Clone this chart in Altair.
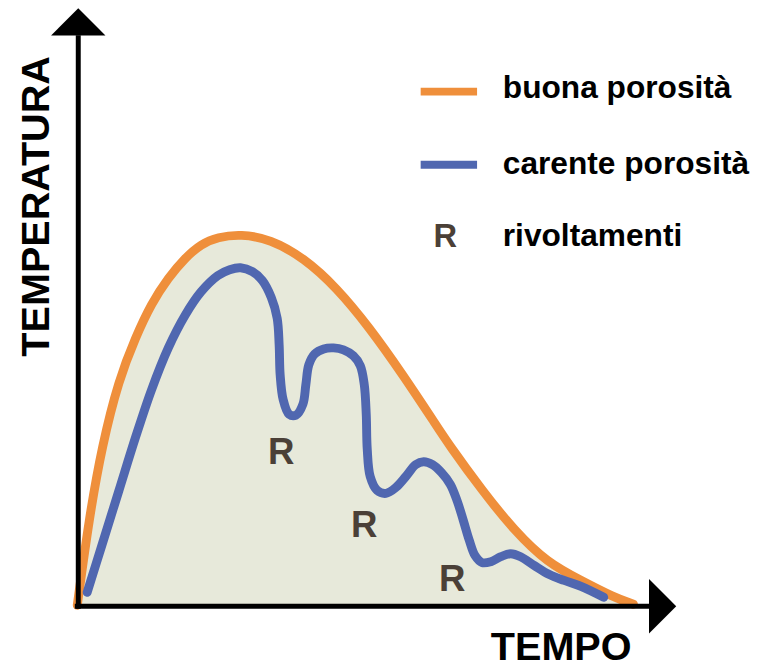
import altair as alt
import pandas as pd

# ---- data (time units, temperature units) ----
orange_t = [0, 2.4, 5, 8.4, 11.8, 15, 18.4, 21.8, 25, 28.4, 33, 39, 45.8, 52.4, 59, 65.8,
            72.4, 75, 81.8, 88.4, 95, 101.8, 108.4, 112.4]
orange_T = [0, 17.6, 32.2, 45.6, 54.2, 61, 66.2, 70.2, 73, 74.4, 75, 74, 70.2, 64.2, 56.2, 46.6,
            36.6, 32.6, 23.2, 15, 8.6, 5, 1.6, 0.2]

blue_t = [2, 5, 8.4, 11.8, 15, 18.4, 21.8, 25, 28.4, 30.8, 33, 35.4, 37.4, 39.2, 40.4, 40.8,
          41, 41.6, 42.8, 44.2, 45.6, 46.2, 46.8, 48, 49.8, 51.8, 53.8, 55.8, 57.2, 58, 58.4,
          58.6, 59.2, 60.6, 62.4, 64.4, 66.4, 68.4, 70, 71.8, 73.6, 75.4, 76.8, 78, 79.2, 80.4,
          81.8, 83.6, 85.6, 87.6, 89.6, 92.4, 95.4, 98.4, 101.8, 106.4]
blue_T = [2.6, 12.2, 23.1, 34.0, 43.5, 52.0, 58.6, 63.3, 66.6, 67.8, 68.2, 67.4, 65.6, 62.2, 58, 52.6,
          46.6, 41.6, 38.6, 38.4, 40.6, 44.6, 48.6, 50.8, 51.8, 52, 51.6, 50.4, 48.4, 44.6, 38.6,
          31.6, 26, 23.2, 22.6, 23.8, 26, 28.4, 29, 28.4, 26.8, 24.4, 21, 17.2, 13.2, 10,
          8.6, 8.8, 9.8, 10.4, 9.8, 8, 6.2, 5, 3.8, 1.6]

r_t = [41.2, 58.0, 75.8]
r_T = [28.6, 13.8, 2.8]

legend_labels = ["buona porosità", "carente porosità", "rivoltamenti"]
legend_T = [102.6, 87.2, 72.6]
legend_line_T = [103.8, 89.0]
legend_colors = ["#ef8f3b", "#5067b0"]

ORANGE = "#ef8f3b"
BLUE = "#5067b0"
FILL = "#e7e9da"
RCOL = "#4b4037"
FONT = "Liberation Sans"

XS = alt.Scale(domain=[0, 122], nice=False, zero=False)
YS = alt.Scale(domain=[0, 120], nice=False, zero=False)


def X(f):
    return alt.X(f, type="quantitative", scale=XS, axis=None)


def Y(f):
    return alt.Y(f, type="quantitative", scale=YS, axis=None)


orange_df = pd.DataFrame({"t": orange_t, "T": orange_T})
blue_df = pd.DataFrame({"t": blue_t, "T": blue_T, "i": list(range(len(blue_t)))})
r_df = pd.DataFrame({"t": r_t, "T": r_T, "lab": ["R"] * len(r_t)})

area = alt.Chart(orange_df).mark_area(color=FILL, interpolate="basis").encode(
    x=X("t"), y=Y("T"))
orange = alt.Chart(orange_df).mark_line(
    color=ORANGE, strokeWidth=9, interpolate="basis", strokeCap="round").encode(
    x=X("t"), y=Y("T"))
blue = alt.Chart(blue_df).mark_line(
    color=BLUE, strokeWidth=9, interpolate="catmull-rom", strokeCap="round").encode(
    x=X("t"), y=Y("T"), order=alt.Order("i:Q"))

r_text = alt.Chart(r_df).mark_text(
    font=FONT, fontWeight="bold", fontSize=37, color=RCOL, align="center",
    baseline="alphabetic").encode(x=X("t"), y=Y("T"), text="lab:N")

# axes with arrows
yaxis = alt.Chart(pd.DataFrame({"t": [0.2], "a": [-0.7], "b": [115.2]})).mark_rule(
    color="black", strokeWidth=5).encode(x=X("t"), y=Y("a"), y2="b")
xaxis = alt.Chart(pd.DataFrame({"T": [-0.2], "a": [-0.5], "b": [115.8]})).mark_rule(
    color="black", strokeWidth=5).encode(y=Y("T"), x=X("a"), x2="b")
yarrow = alt.Chart(pd.DataFrame({"t": [0.2], "T": [117.9]})).mark_point(
    shape="M-1,0.5L0,-0.5L1,0.5Z", size=3025, filled=True, color="black", opacity=1,
    strokeWidth=0).encode(x=X("t"), y=Y("T"))
xarrow = alt.Chart(pd.DataFrame({"t": [118.3], "T": [-0.2]})).mark_point(
    shape="M-0.5,-1L0.5,0L-0.5,1Z", size=3025, filled=True, color="black", opacity=1,
    strokeWidth=0).encode(x=X("t"), y=Y("T"))

# axis titles
ytitle = alt.Chart(pd.DataFrame({"t": [-5.8], "T": [80.6], "lab": ["TEMPERATURA"]})).mark_text(
    font=FONT, fontWeight="bold", fontSize=40, color="black", angle=270, align="center",
    baseline="alphabetic").encode(x=X("t"), y=Y("T"), text="lab:N")
xtitle = alt.Chart(pd.DataFrame({"t": [97.8], "T": [-11], "lab": ["TEMPO"]})).mark_text(
    font=FONT, fontWeight="bold", fontSize=40, color="black", align="center",
    baseline="alphabetic").encode(x=X("t"), y=Y("T"), text="lab:N")

# legend
leg_lines = alt.Chart(pd.DataFrame({
    "a": [69.4, 69.4], "b": [80.8, 80.8], "T": legend_line_T, "c": legend_colors})).mark_rule(
    strokeWidth=8, strokeCap="butt").encode(
    x=X("a"), x2="b", y=Y("T"), color=alt.Color("c:N", scale=None))
leg_r = alt.Chart(pd.DataFrame({"t": [74.4], "T": [72.4], "lab": ["R"]})).mark_text(
    font=FONT, fontWeight="bold", fontSize=33, color=RCOL, align="center",
    baseline="alphabetic").encode(x=X("t"), y=Y("T"), text="lab:N")
leg_text = alt.Chart(pd.DataFrame({"t": [86] * 3, "T": legend_T, "lab": legend_labels})).mark_text(
    font=FONT, fontWeight="bold", fontSize=32, color="black", align="left",
    baseline="alphabetic").encode(x=X("t"), y=Y("T"), text="lab:N")

chart = alt.layer(
    area, orange, blue, r_text, yaxis, xaxis, yarrow, xarrow, ytitle, xtitle,
    leg_lines, leg_r, leg_text
).properties(
    width=610, height=600, autosize="none",
    padding={"left": 70, "top": 0, "right": 89, "bottom": 60},
).configure_view(stroke=None)

chart.save("out.html", embed_options={"renderer": "svg", "actions": False})
